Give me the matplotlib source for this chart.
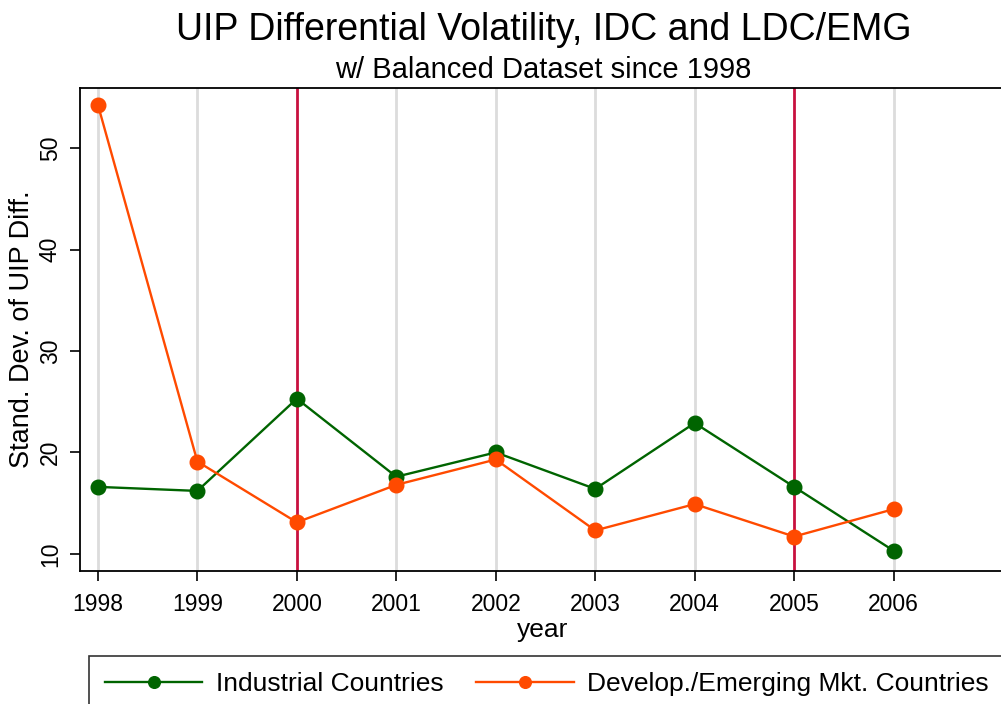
import matplotlib
matplotlib.use("Agg")
import matplotlib.pyplot as plt

plt.rcParams['font.family'] = ['Liberation Sans', 'DejaVu Sans']

# ── data ──
years = [1998, 1999, 2000, 2001, 2002, 2003, 2004, 2005, 2006]
industrial = [16.6, 16.2, 25.3, 17.6, 20.0, 16.4, 22.9, 16.6, 10.3]
emerging = [54.3, 19.1, 13.1, 16.8, 19.3, 12.3, 14.9, 11.7, 14.4]
event_years = [2000, 2005]
y_ticks = [10, 20, 30, 40, 50]

green = '#006400'
orange = '#FF4A00'
crimson = '#C8103F'

fig = plt.figure(figsize=(10.01, 7.04), dpi=100)
ax = fig.add_axes([80/1001, 1 - 571/704, 925/1001, (571 - 88)/704])

# vertical grid at each year, highlighted event years
for yr in years:
    if yr in event_years:
        ax.axvline(yr, color=crimson, linewidth=2.0, zorder=1)
    else:
        ax.axvline(yr, color='#DCDCDC', linewidth=2.0, zorder=0)

ax.plot(years, industrial, '-o', color=green, linewidth=1.7, markersize=10.5,
        label='Industrial Countries', zorder=3)
ax.plot(years, emerging, '-o', color=orange, linewidth=1.7, markersize=10.5,
        label='Develop./Emerging Mkt. Countries', zorder=3)

ax.set_xlim(1997.82, 2007.12)
ax.set_ylim(8.3, 55.95)
ax.set_xticks(years)
ax.set_yticks(y_ticks)
ax.tick_params(axis='x', labelsize=16.5, length=7, width=1.2, pad=9)
ax.tick_params(axis='y', labelsize=16.5, length=7, width=1.2, labelrotation=90, pad=6)
for lbl in ax.get_yticklabels():
    lbl.set_va('center')
for s in ax.spines.values():
    s.set_linewidth(1.3)
ax.spines['right'].set_visible(False)

ax.set_xlabel('year', fontsize=19, labelpad=1)
ax.set_ylabel('Stand. Dev. of UIP Diff.', fontsize=19.5, labelpad=3)

fig.text(0.543, 0.957, 'UIP Differential Volatility, IDC and LDC/EMG',
         ha='center', va='center', fontsize=27)
fig.text(0.543, 0.901, 'w/ Balanced Dataset since 1998',
         ha='center', va='center', fontsize=21)

leg = fig.legend(loc='upper left', bbox_to_anchor=(89/1001, 1 - 656/704),
                 ncol=2, fontsize=19, frameon=True, fancybox=False,
                 edgecolor='black', handlelength=3.7, handletextpad=0.5,
                 columnspacing=1.25, markerscale=0.8, borderpad=0.6,
                 borderaxespad=0)
leg.get_frame().set_linewidth(1.2)

fig.savefig('out.png', dpi=100)
